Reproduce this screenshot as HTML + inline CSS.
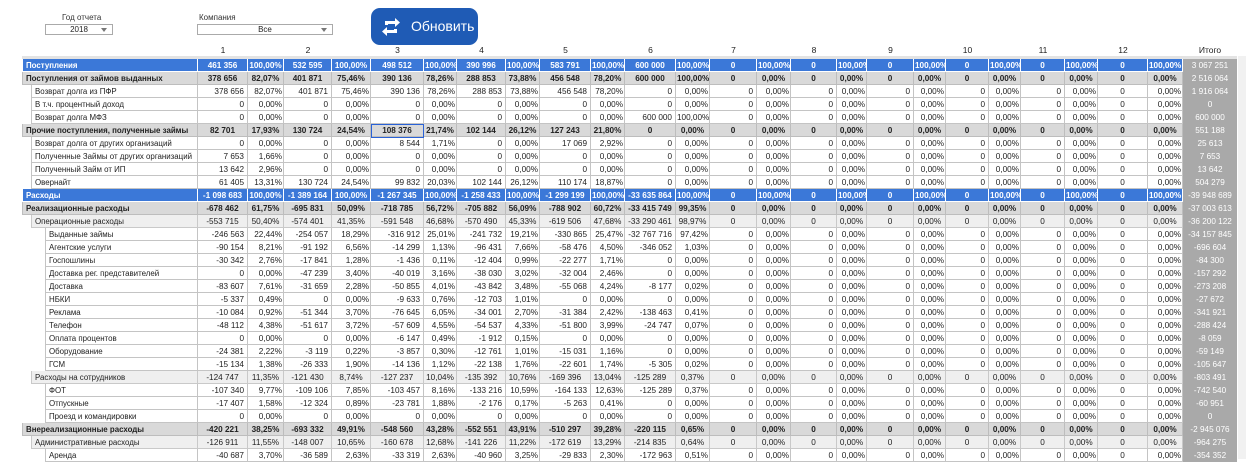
<!DOCTYPE html>
<html><head><meta charset="utf-8">
<style>
body{margin:0;width:1246px;height:459px;overflow:hidden;background:#fff;font-family:"Liberation Sans","Noto Sans CJK SC",sans-serif;position:relative}
.c{position:absolute;box-sizing:border-box;font-size:8.2px;line-height:12px;white-space:nowrap;overflow:hidden;color:#222;padding:0 3px}
.lbl{position:absolute;font-size:8px;color:#333}
.box{position:absolute;border:1px solid #aaa;box-sizing:border-box;font-size:8px;line-height:9px;text-align:center;color:#222}
.arr{position:absolute;right:5px;top:3px;width:0;height:0;border-left:3px solid transparent;border-right:3px solid transparent;border-top:4px solid #777}
.hd{position:absolute;top:45px;font-size:8.5px;color:#222;text-align:center}
</style></head><body>
<div class="lbl" style="left:62px;top:13px">Год отчета</div>
<div class="box" style="left:45px;top:24px;width:68px;height:11px">2018<span class="arr"></span></div>
<div class="lbl" style="left:199px;top:13px">Компания</div>
<div class="box" style="left:197px;top:24px;width:136px;height:11px">Все<span class="arr"></span></div>
<div style="position:absolute;left:371px;top:8px;width:107px;height:37px;background:#1f5bb5;border-radius:9px;color:#fff;font-size:14px;line-height:37px">
<svg width="22" height="22" viewBox="0 0 22 22" style="position:absolute;left:9px;top:8px"><path d="M5 9 V5 H15 V2 L20 6.5 L15 11 V8 H8 V9 Z M17 13 V17 H7 V20 L2 15.5 L7 11 V14 H14 V13 Z" fill="#fff"/></svg>
<span style="position:absolute;left:40px">Обновить</span></div>
<div style="position:absolute;left:22px;top:56px;width:1215px;height:3px;background:#e3e3e3"></div>
<div style="position:absolute;left:1238px;top:56px;width:8px;height:403px;background:#f1f1f1"></div>
<div id="grid"></div>
<script>
const labels=["Поступления","Поступления от займов выданных","Возврат долга из ПФР","В т.ч. процентный доход","Возврат долга МФЗ","Прочие поступления, полученные займы","Возврат долга от других организаций","Полученные Займы от других организаций","Полученный Займ от ИП","Овернайт","Расходы","Реализационные расходы","Операционные расходы","Выданные займы","Агентские услуги","Госпошлины","Доставка рег. представителей","Доставка","НБКИ","Реклама","Телефон","Оплата процентов","Оборудование","ГСМ","Расходы на сотрудников","ФОТ","Отпускные","Проезд и командировки","Внереализационные расходы","Административные расходы","Аренда"];
const kinds=["blue","bold","i1","i1","i1","bold","i1","i1","i1","i1","blue","bold","sub","i2","i2","i2","i2","i2","i2","i2","i2","i2","i2","i2","sub","i2","i2","i2","bold","sub","i2"];
const values=[
["461 356","532 595","498 512","390 996","583 791","600 000"],
["378 656","401 871","390 136","288 853","456 548","600 000"],
["378 656","401 871","390 136","288 853","456 548","0"],
["0","0","0","0","0","0"],
["0","0","0","0","0","600 000"],
["82 701","130 724","108 376","102 144","127 243","0"],
["0","0","8 544","0","17 069","0"],
["7 653","0","0","0","0","0"],
["13 642","0","0","0","0","0"],
["61 405","130 724","99 832","102 144","110 174","0"],
["-1 098 683","-1 389 164","-1 267 345","-1 258 433","-1 299 199","-33 635 864"],
["-678 462","-695 831","-718 785","-705 882","-788 902","-33 415 749"],
["-553 715","-574 401","-591 548","-570 490","-619 506","-33 290 461"],
["-246 563","-254 057","-316 912","-241 732","-330 865","-32 767 716"],
["-90 154","-91 192","-14 299","-96 431","-58 476","-346 052"],
["-30 342","-17 841","-1 436","-12 404","-22 277","0"],
["0","-47 239","-40 019","-38 030","-32 004","0"],
["-83 607","-31 659","-50 855","-43 842","-55 068","-8 177"],
["-5 337","0","-9 633","-12 703","0","0"],
["-10 084","-51 344","-76 645","-34 001","-31 384","-138 463"],
["-48 112","-51 617","-57 609","-54 537","-51 800","-24 747"],
["0","0","-6 147","-1 912","0","0"],
["-24 381","-3 119","-3 857","-12 761","-15 031","0"],
["-15 134","-26 333","-14 136","-22 138","-22 601","-5 305"],
["-124 747","-121 430","-127 237","-135 392","-169 396","-125 289"],
["-107 340","-109 106","-103 457","-133 216","-164 133","-125 289"],
["-17 407","-12 324","-23 781","-2 176","-5 263","0"],
["0","0","0","0","0","0"],
["-420 221","-693 332","-548 560","-552 551","-510 297","-220 115"],
["-126 911","-148 007","-160 678","-141 226","-172 619","-214 835"],
["-40 687","-36 589","-33 319","-40 960","-29 833","-172 963"]];
const shares=[
["100,00%","100,00%","100,00%","100,00%","100,00%","100,00%"],
["82,07%","75,46%","78,26%","73,88%","78,20%","100,00%"],
["82,07%","75,46%","78,26%","73,88%","78,20%","0,00%"],
["0,00%","0,00%","0,00%","0,00%","0,00%","0,00%"],
["0,00%","0,00%","0,00%","0,00%","0,00%","100,00%"],
["17,93%","24,54%","21,74%","26,12%","21,80%","0,00%"],
["0,00%","0,00%","1,71%","0,00%","2,92%","0,00%"],
["1,66%","0,00%","0,00%","0,00%","0,00%","0,00%"],
["2,96%","0,00%","0,00%","0,00%","0,00%","0,00%"],
["13,31%","24,54%","20,03%","26,12%","18,87%","0,00%"],
["100,00%","100,00%","100,00%","100,00%","100,00%","100,00%"],
["61,75%","50,09%","56,72%","56,09%","60,72%","99,35%"],
["50,40%","41,35%","46,68%","45,33%","47,68%","98,97%"],
["22,44%","18,29%","25,01%","19,21%","25,47%","97,42%"],
["8,21%","6,56%","1,13%","7,66%","4,50%","1,03%"],
["2,76%","1,28%","0,11%","0,99%","1,71%","0,00%"],
["0,00%","3,40%","3,16%","3,02%","2,46%","0,00%"],
["7,61%","2,28%","4,01%","3,48%","4,24%","0,02%"],
["0,49%","0,00%","0,76%","1,01%","0,00%","0,00%"],
["0,92%","3,70%","6,05%","2,70%","2,42%","0,41%"],
["4,38%","3,72%","4,55%","4,33%","3,99%","0,07%"],
["0,00%","0,00%","0,49%","0,15%","0,00%","0,00%"],
["2,22%","0,22%","0,30%","1,01%","1,16%","0,00%"],
["1,38%","1,90%","1,12%","1,76%","1,74%","0,02%"],
["11,35%","8,74%","10,04%","10,76%","13,04%","0,37%"],
["9,77%","7,85%","8,16%","10,59%","12,63%","0,37%"],
["1,58%","0,89%","1,88%","0,17%","0,41%","0,00%"],
["0,00%","0,00%","0,00%","0,00%","0,00%","0,00%"],
["38,25%","49,91%","43,28%","43,91%","39,28%","0,65%"],
["11,55%","10,65%","12,68%","11,22%","13,29%","0,64%"],
["3,70%","2,63%","2,63%","3,25%","2,30%","0,51%"]];
const totals=["3 067 251","2 516 064","1 916 064","0","600 000","551 188","25 613","7 653","13 642","504 279","-39 948 689","-37 003 613","-36 200 122","-34 157 845","-696 604","-84 300","-157 292","-273 208","-27 672","-341 921","-288 424","-8 059","-59 149","-105 647","-803 491","-742 540","-60 951","0","-2 945 076","-964 275","-354 352"];
const months=["1","2","3","4","5","6","7","8","9","10","11","12"];

const X=[22,198,248,284,332,371,424,457,506,540,591,625,676,710,757,791,837,867,914,946,989,1021,1065,1098,1148,1183,1237];
const TOP=59,RH=13.0;
const g=document.getElementById('grid');
function cell(x,y,w,h,txt,st){const d=document.createElement('div');d.className='c';d.style.cssText=`left:${x}px;top:${y}px;width:${w}px;height:${h}px;line-height:${h}px;`+st;d.textContent=txt;g.appendChild(d);return d;}
months.forEach((m,j)=>{const d=document.createElement('div');d.className='hd';d.style.left=X[1+2*j]+'px';d.style.width=(X[2+2*j]-X[1+2*j])+'px';d.textContent=m;


g.appendChild(d);});
{const d=document.createElement('div');d.className='hd';d.style.left=X[25]+'px';d.style.width=(X[26]-X[25])+'px';d.textContent='Итого';


g.appendChild(d);}
labels.forEach((lab,i)=>{
 const k=kinds[i];const y=Math.round(TOP+i*RH);const h=Math.round(TOP+(i+1)*RH)-y;
 let bg='#fff',col='#222',bw='normal',bc='#c4c4c4',align='right';
 if(k=='blue'){bg='#3b78d8';col='#fff';bw='bold';bc='#fff';align='center';}
 if(k=='bold'){bg='#d9d9d9';bw='bold';bc='#bdbdbd';align='center';}
 if(k=='sub'){bg='#efefef';bc='#c9c9c9';align='center';}
 const lx=(k=='i1'||k=='sub')?31:(k=='i2'?45:22);
 const base=`background:${bg};color:${col};font-weight:${bw};border-right:1px solid ${bc};border-bottom:1px solid ${bc};`;
 const lc=cell(lx,y,X[1]-lx,h,lab,base+'border-left:1px solid '+bc+';font-size:7.9px;');
 
 
 for(let j=0;j<12;j++){
  const v=j<6?values[i][j]:'0';
  const p=j<6?shares[i][j]:(k=='blue'?'100,00%':'0,00%');
  let va=align;if(j==11&&align=='right')va='center';
  const vc=cell(X[1+2*j],y,X[2+2*j]-X[1+2*j],h,v,base+'text-align:'+va+';');
  
  
  const pc=cell(X[2+2*j],y,X[3+2*j]-X[2+2*j],h,p,base+'text-align:'+(align=='right'?'right':'center')+';padding:0 1px;');
  
  
 }
 const tc=cell(X[25],y,X[26]-X[25],h,totals[i],'background:#a9a9a9;color:#fff;text-align:center;');
 
 
});
const sel=document.createElement('div');


sel.style.cssText=`position:absolute;left:${X[5]}px;top:${Math.round(TOP+5*RH)}px;width:${X[6]-X[5]}px;height:${RH+1}px;border:1px solid #2a62d6;box-sizing:border-box`;
g.appendChild(sel);
</script>
</body></html>
